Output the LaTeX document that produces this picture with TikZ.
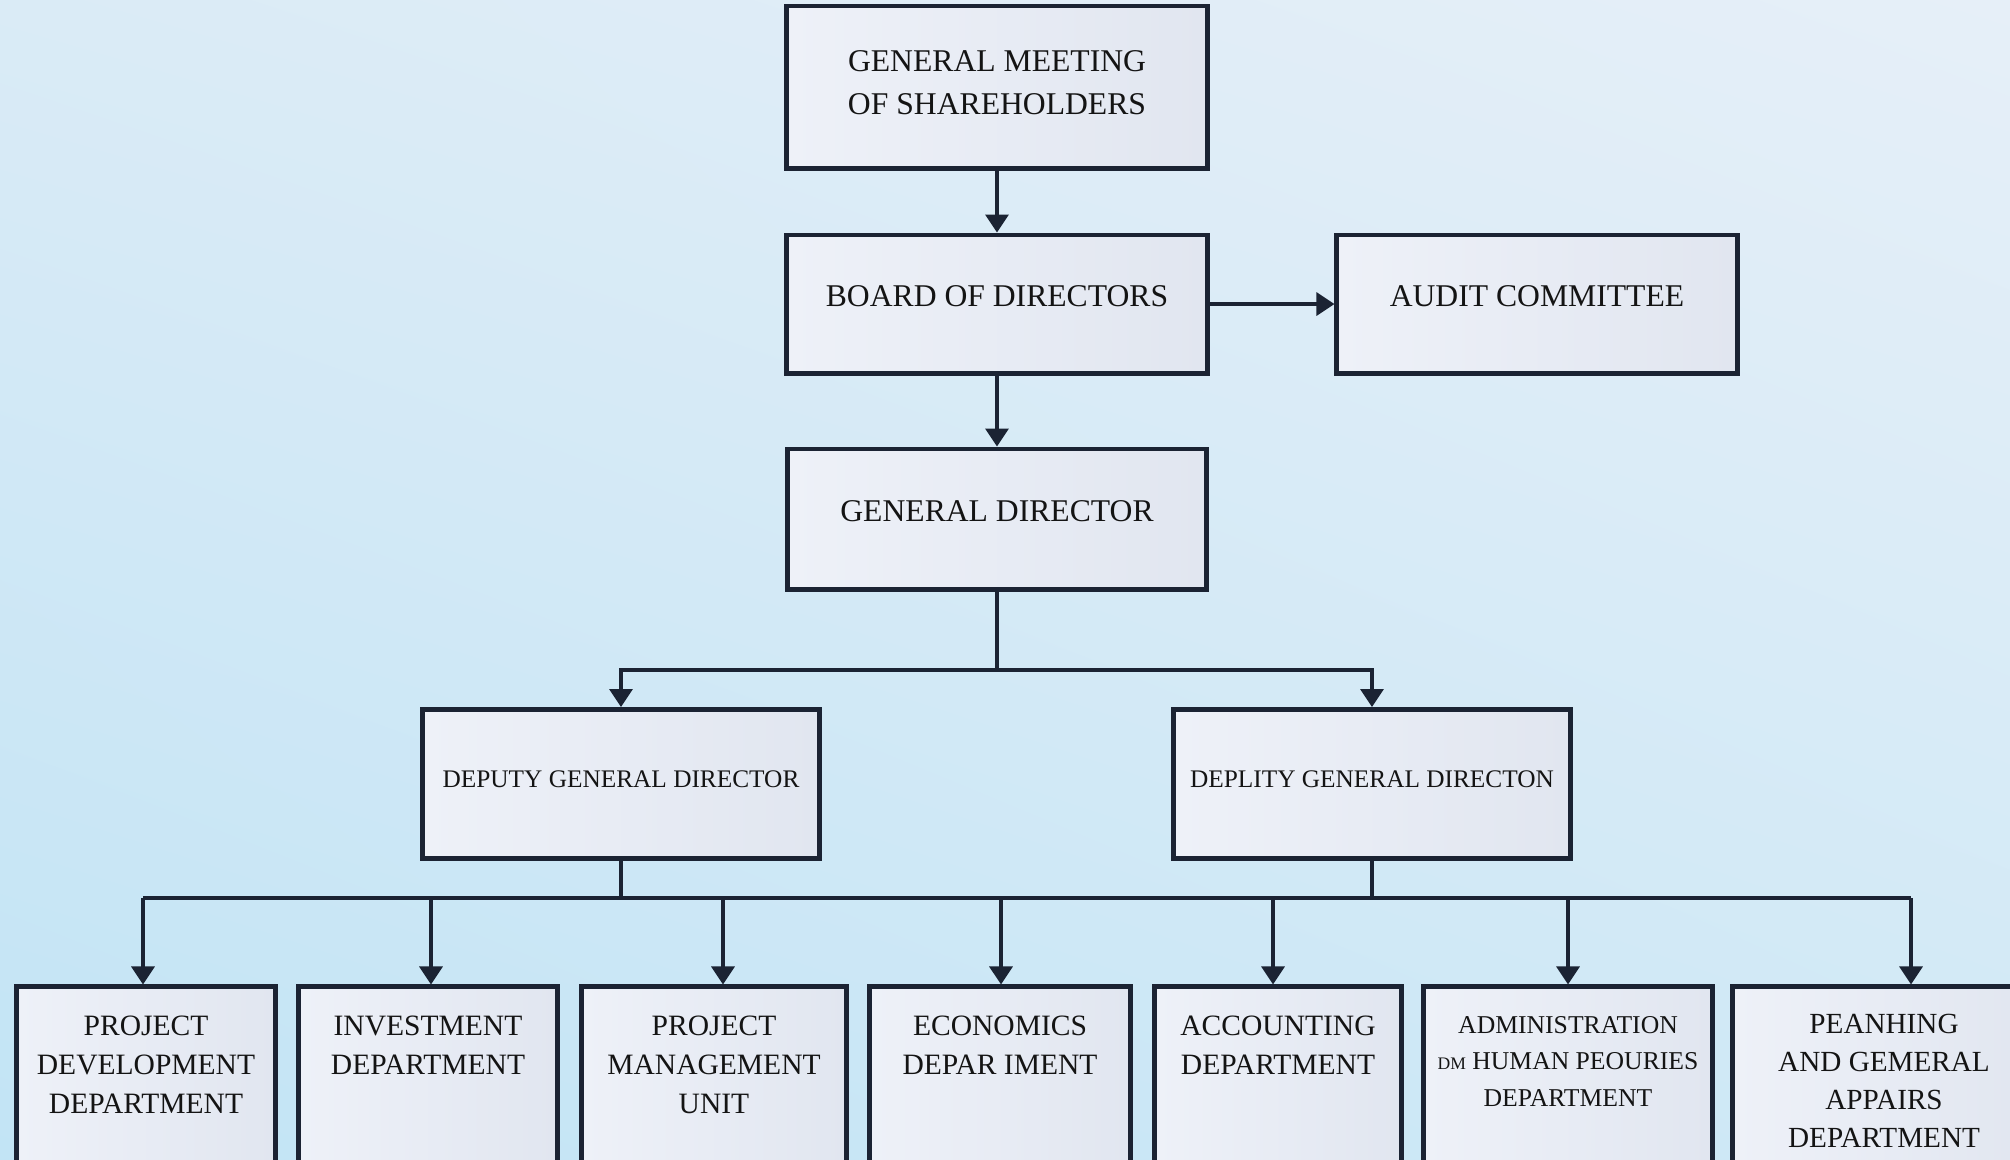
\documentclass[tikz,border=0pt]{standalone}
\usepackage{fontspec}
\setmainfont{Liberation Serif}
\usepackage{tikz}
\usetikzlibrary{arrows.meta,shadings}
\definecolor{bgul}{HTML}{DAEBF6}
\definecolor{bgur}{HTML}{E6EFF8}
\definecolor{bgll}{HTML}{C2E4F5}
\definecolor{bglr}{HTML}{D0E9F6}
\definecolor{boxl}{HTML}{EEF1F8}
\definecolor{boxr}{HTML}{E1E6F0}
\definecolor{linecol}{HTML}{1B2333}
\definecolor{inkcol}{HTML}{141414}
\tikzstyle{orgbox}=[rectangle,draw=linecol,line width=1.4pt,
                    left color=boxl,right color=boxr,text=inkcol,
                    align=center,inner sep=0pt]
\tikzstyle{headbox}=[orgbox,text depth=4.5pt]
\tikzstyle{deptbox}=[orgbox,minimum height=3.0cm]
\tikzstyle{deptlab}=[anchor=north,inner sep=0pt,yshift=-0.31cm,
                     align=center,text=inkcol]
\tikzstyle{conn}=[draw=linecol,line width=0.95pt]
\tikzstyle{arr}=[conn,-{Triangle[width=2.3mm,length=1.8mm]}]

\begin{document}
\begin{tikzpicture}[x=0.01cm,y=-0.01cm]
    \newcommand{\topfont}{\fontsize{9}{12.2}\selectfont}
    \newcommand{\depfont}{\fontsize{8.4}{11}\selectfont}
    \useasboundingbox (0,0) rectangle (2010,1159);
    \clip (0,0) rectangle (2010,1159);
    \shade[upper left=bgul,upper right=bgur,lower left=bgll,lower right=bglr]
      (0,0) rectangle (2010,1159);
    % upper levels
    \node (gms) at (997,87) [headbox,text depth=2.5pt,minimum width=4.21cm,
      minimum height=1.62cm,font=\topfont]{GENERAL MEETING\\OF SHAREHOLDERS};
    \node (board) at (997,304) [headbox,minimum width=4.21cm,minimum height=1.38cm,
      font=\topfont]{BOARD OF DIRECTORS};
    \node (audit) at (1537,304) [headbox,minimum width=4.0cm,minimum height=1.38cm,
      font=\topfont]{AUDIT COMMITTEE};
    \node (gd) at (997,519) [headbox,minimum width=4.18cm,minimum height=1.40cm,
      font=\topfont]{GENERAL DIRECTOR};
    \node (dep1) at (621,784) [orgbox,text depth=3pt,minimum width=3.96cm,
      minimum height=1.49cm,font=\fontsize{7.2}{9}\selectfont]{DEPUTY GENERAL DIRECTOR};
    \node (dep2) at (1372,784) [orgbox,text depth=3pt,minimum width=3.96cm,
      minimum height=1.49cm,font=\fontsize{7.2}{9}\selectfont]{DEPLITY GENERAL DIRECTON};
    % departments
    \node (d1) at (146,1137) [deptbox,minimum width=2.59cm,
      label={[deptlab,name=d1t,font=\depfont]north:{PROJECT\\DEVELOPMENT\\DEPARTMENT}}]{};
    \node (d2) at (428,1137) [deptbox,minimum width=2.59cm,
      label={[deptlab,name=d2t,font=\depfont]north:{INVESTMENT\\DEPARTMENT}}]{};
    \node (d3) at (714,1137) [deptbox,minimum width=2.65cm,
      label={[deptlab,name=d3t,font=\depfont]north:{PROJECT\\MANAGEMENT\\UNIT}}]{};
    \node (d4) at (1000,1137) [deptbox,minimum width=2.61cm,
      label={[deptlab,name=d4t,font=\depfont]north:{ECONOMICS\\DEPAR IMENT}}]{};
    \node (d5) at (1278,1137) [deptbox,minimum width=2.46cm,
      label={[deptlab,name=d5t,font=\depfont]north:{ACCOUNTING\\DEPARTMENT}}]{};
    \node (d6) at (1568,1137) [deptbox,minimum width=2.88cm,
      label={[deptlab,name=d6t,font=\fontsize{7.3}{10.4}\selectfont]north:{ADMINISTRATION\\{\fontsize{5}{5}\selectfont DM} HUMAN PEOURIES\\DEPARTMENT}}]{};
    \node (d7) at (1884,1137) [deptbox,minimum width=3.02cm,
      label={[deptlab,name=d7t,yshift=0.02cm,font=\fontsize{8.3}{10.8}\selectfont]north:{PEANHING\\AND GEMERAL\\APPAIRS\\DEPARTMENT}}]{};
    % connectors
    \draw[arr] (gms) -- (board);
    \draw[arr] (board) -- (audit);
    \draw[arr] (board) -- (gd);
    \coordinate (t0) at (997,670);
    \draw[conn] (gd) -- (t0);
    \draw[arr] (t0) -| (dep1);
    \draw[arr] (t0) -| (dep2);
    \coordinate (b1) at (143,898);
    \coordinate (b2) at (431,898);
    \coordinate (b3) at (723,898);
    \coordinate (b4) at (1001,898);
    \coordinate (b5) at (1273,898);
    \coordinate (b6) at (1568,898);
    \coordinate (b7) at (1911,898);
    \draw[conn] (b1) -- (b7);
    \draw[conn] (dep1) -- (dep1 |- b1);
    \draw[conn] (dep2) -- (dep2 |- b1);
    \draw[arr] (b1) -- (b1 |- d1.north);
    \draw[arr] (b2) -- (b2 |- d2.north);
    \draw[arr] (b3) -- (b3 |- d3.north);
    \draw[arr] (b4) -- (b4 |- d4.north);
    \draw[arr] (b5) -- (b5 |- d5.north);
    \draw[arr] (b6) -- (b6 |- d6.north);
    \draw[arr] (b7) -- (b7 |- d7.north);
\end{tikzpicture}
\end{document}
